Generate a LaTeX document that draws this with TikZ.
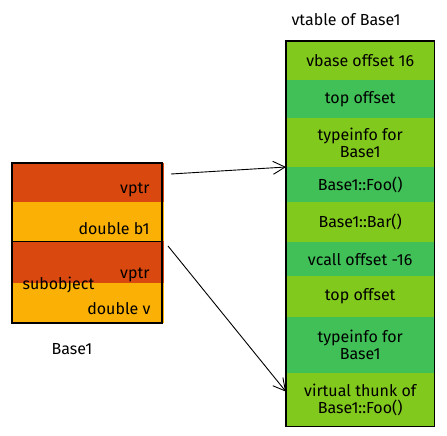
\documentclass[tikz,border=0pt]{standalone}
\usepackage{fontspec}
\setmainfont{Fira Sans}
\usetikzlibrary{arrows.meta}
\definecolor{ptrred}{HTML}{D9480F}
\definecolor{dblorange}{HTML}{FAB005}
\definecolor{lightgreen}{HTML}{82C91E}
\definecolor{darkgreen}{HTML}{40C057}

\begin{document}
\begin{tikzpicture}[x=1pt,y=-1pt,
  every node/.style={font=\fontsize{16}{17}\selectfont},
  cell/.style={rectangle,inner sep=0pt,anchor=north west,minimum width=#1},
  slot/.style={cell=148,align=center,fill=#1},
  arr/.style={-{Straight Barb[length=12pt,width=13pt]},line width=0.9pt}]
  \useasboundingbox (0,0) rectangle (447,436);

  % object layout
  \node[cell=152,minimum height=39,fill=ptrred] (vptrA) at (12,163) {};
  \node[cell=152,minimum height=39,fill=dblorange] (b1) at (12,202) {};
  \node[cell=152,minimum height=42,fill=ptrred] (vptrB) at (12,241) {};
  \node[cell=152,minimum height=40,fill=dblorange] (v) at (12,283) {};
  \draw[line width=1.8pt] (12,163) rectangle (162,323);
  \draw[line width=0.9pt] (12,241) -- (162,241);
  \node[anchor=base east] at (153,193) {vptr};
  \node[anchor=base east] at (153,234) {double b1};
  \node[anchor=base east] at (153,278) {vptr};
  \node[anchor=base west] at (19,289) {subobject};
  \node[anchor=base east] at (154,314) {double v};
  \node (base) at (72,349) {Base1};

  % vtable
  \node (title) at (346,20) {vtable of Base1};
  \node[slot=lightgreen,minimum height=39] (vbase) at (286,41) {vbase offset 16};
  \node[slot=darkgreen,minimum height=38] (topA) at (286,80) {top offset};
  \node[slot=lightgreen,minimum height=49] (tinfoA) at (286,118) {typeinfo for\\Base1};
  \node[slot=darkgreen,minimum height=35] (foo) at (286,167) {Base1::Foo()};
  \node[slot=lightgreen,minimum height=40] (bar) at (286,202) {Base1::Bar()};
  \node[slot=darkgreen,minimum height=34] (vcall) at (286,242) {vcall offset -16};
  \node[slot=lightgreen,minimum height=41] (topB) at (286,276) {top offset};
  \node[slot=darkgreen,minimum height=56] (tinfoB) at (286,317) {typeinfo for\\Base1};
  \node[slot=lightgreen,minimum height=53] (thunk) at (286,373) {virtual thunk of\\Base1::Foo()};
  \draw[line width=1.8pt] (vbase.north west) rectangle (thunk.south east);

  \coordinate (ptrA) at (171,174);
  \coordinate (ptrB) at (168,246);
  \draw[arr] (ptrA) -- (foo.north west);
  \draw[arr] (ptrB) -- ([yshift=8pt]thunk.west);
\end{tikzpicture}
\end{document}
